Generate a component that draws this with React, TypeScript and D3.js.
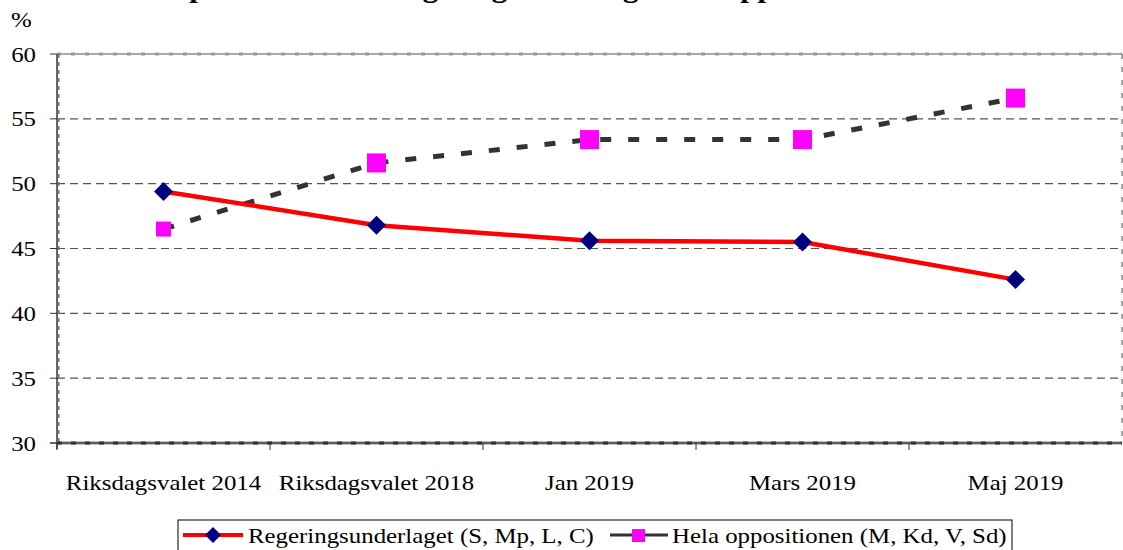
import React from "react";
import * as d3 from "d3";

const categories = ["Riksdagsvalet 2014", "Riksdagsvalet 2018", "Jan 2019", "Mars 2019", "Maj 2019"];
const regering = [49.4, 46.8, 45.6, 45.5, 42.6];
const opposition = [46.5, 51.6, 53.4, 53.4, 56.6];
const yTicks = [30, 35, 40, 45, 50, 55, 60];
const seriesNames = ["Regeringsunderlaget (S, Mp, L, C)", "Hela oppositionen (M, Kd, V, Sd)"];
const title = "Opinionsstöd för regeringsunderlaget och oppositionen";

const W = 1123, H = 550;
const L = 57, R = 1122, T = 54, B = 443;
const SX = 1.13;
const FONT = "Liberation Serif";

function SText({ x, y, anchor = "start", size = 22, weight = "normal", children }: any) {
  return (
    <g transform={`translate(${x},${y}) scale(${SX},1)`}>
      <text x={0} y={0} textAnchor={anchor} fontSize={size} fontWeight={weight} style={{ fontFamily: FONT }} fill="#000">
        {children}
      </text>
    </g>
  );
}

export default function App() {
  const x = d3.scaleBand<string>().domain(categories).range([L, R]).padding(0);
  const y = d3.scaleLinear().domain([30, 60]).range([B, T]);
  const cx = (c: string) => (x(c) as number) + x.bandwidth() / 2;

  const line = d3.line<number>().x((_, i) => cx(categories[i])).y((v) => y(v));
  const diamond = (px: number, py: number, r: number) =>
    `M${px},${py - r}L${px + r},${py}L${px},${py + r}L${px - r},${py}Z`;

  const boundaries = categories.map((c) => x(c) as number);

  return (
    <svg width={W} height={H} style={{ position: "absolute", left: 0, top: 0, background: "#fff", fontFamily: FONT }}>
      {/* title (cut off at top) */}
      <SText x={165} y={-3} size={27.5} weight="bold">{title}</SText>

      {/* gridlines */}
      {yTicks.filter((t) => t !== 30 && t !== 60).map((t) => (
        <line key={t} x1={L} x2={R} y1={y(t)} y2={y(t)} stroke="#555" strokeWidth={1.2} strokeDasharray="8,5" />
      ))}
      {/* plot area border (gray dashed) */}
      <line x1={L} x2={R} y1={T} y2={T} stroke="#555" strokeWidth={1} />
      <line x1={L} x2={R} y1={T} y2={T} stroke="#999" strokeWidth={3} strokeDasharray="4,10" />
      <line x1={R} x2={R} y1={T} y2={B} stroke="#888" strokeWidth={1.5} strokeDasharray="5,8" />

      {/* y axis */}
      <line x1={L} x2={L} y1={T} y2={B + 6} stroke="#333" strokeWidth={1.5} />
      <line x1={L + 1.5} x2={L + 1.5} y1={T} y2={B} stroke="#777" strokeWidth={2} strokeDasharray="4,4" />
      {yTicks.map((t) => (
        <g key={t}>
          <line x1={L - 7} x2={L} y1={y(t)} y2={y(t)} stroke="#333" strokeWidth={1} />
          <SText x={36} y={y(t) + 7.5} anchor="end">{String(t)}</SText>
        </g>
      ))}
      <SText x={11} y={27}>%</SText>

      {/* x axis */}
      <line x1={L} x2={R} y1={B} y2={B} stroke="#888" strokeWidth={3} />
      <line x1={L} x2={R} y1={B} y2={B} stroke="#333" strokeWidth={3} strokeDasharray="5,9" />
      <line x1={L - 7} x2={R} y1={B} y2={B} stroke="#333" strokeWidth={1} />
      {boundaries.map((b, i) => (
        <line key={i} x1={b} x2={b} y1={B} y2={B + 7} stroke="#333" strokeWidth={1} />
      ))}
      {categories.map((c) => (
        <SText key={c} x={cx(c)} y={490} anchor="middle">{c}</SText>
      ))}

      {/* series lines */}
      <path d={line(opposition) || ""} fill="none" stroke="#333" strokeWidth={5} strokeDasharray="11,17" />
      <path d={line(regering) || ""} fill="none" stroke="#ff0000" strokeWidth={4.5} strokeLinejoin="round" />

      {/* markers */}
      {regering.map((v, i) => (
        <path key={"r" + i} d={diamond(cx(categories[i]), y(v), 9.5)} fill="#000080" />
      ))}
      {opposition.map((v, i) => {
        const s = i === 0 ? 15 : 19;
        return <rect key={"o" + i} x={cx(categories[i]) - s / 2} y={y(v) - s / 2} width={s} height={s} fill="#ff00ff" />;
      })}

      {/* legend */}
      <rect x={178} y={520} width={834} height={50} fill="#fff" stroke="#000" strokeWidth={1} />
      <line x1={183} x2={243} y1={535} y2={535} stroke="#ff0000" strokeWidth={4} />
      <path d={diamond(213, 535, 8)} fill="#000080" />
      <SText x={248} y={543}>{seriesNames[0]}</SText>
      <line x1={610} x2={668} y1={535} y2={535} stroke="#333" strokeWidth={3} />
      <rect x={632} y={529} width={13} height={13} fill="#ff00ff" />
      <SText x={672} y={543}>{seriesNames[1]}</SText>
    </svg>
  );
}
